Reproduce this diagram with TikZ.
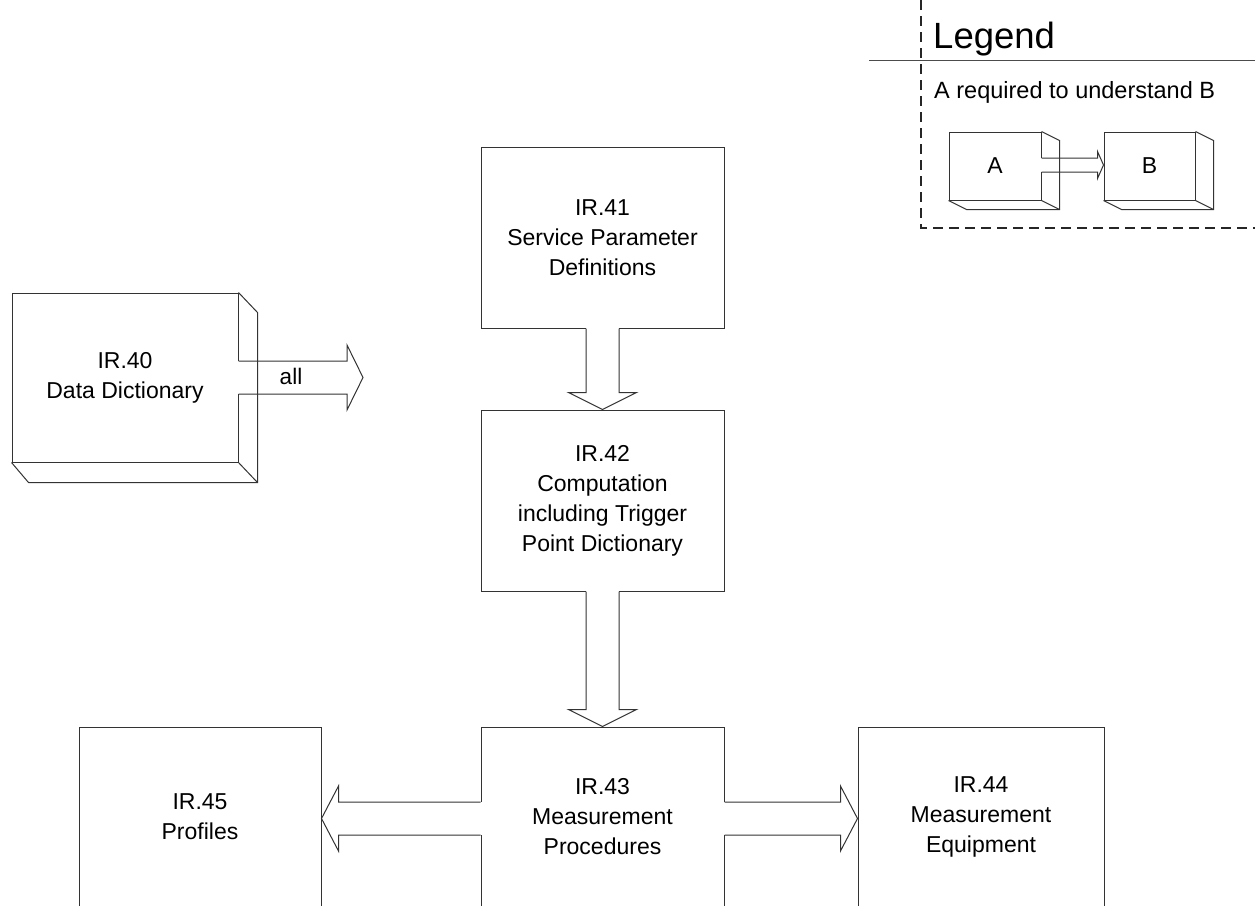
\documentclass[tikz,border=0pt]{standalone}
\usepackage{fontspec}
\setmainfont{Liberation Sans}
\usetikzlibrary{calc}
\begin{document}
\begin{tikzpicture}[x=1pt,y=-1pt,
  ln/.style={draw=black!80, line width=1pt},
  box/.style={ln, rectangle, inner sep=0pt, align=center, font=\fontsize{23}{30}\selectfont},
  lbox/.style={ln, rectangle, inner sep=0pt, align=center, font=\fontsize{23}{27}\selectfont},
  lgline/.style={draw=black!85, line width=1.4pt, dash pattern=on 10pt off 6pt},
  txt/.style={inner sep=0pt, align=center, font=\fontsize{22.5}{30}\selectfont}]
\useasboundingbox (0,0) rectangle (1255,905);
\clip (0,0) rectangle (1255,905);

% ---------- boxes ----------
\node[box, minimum width=226pt, minimum height=169pt] (ir40) at (125,377.5) {IR.40\\Data Dictionary};
\node[box, minimum width=243pt, minimum height=181pt] (ir41) at (602.5,237.5) {IR.41\\Service Parameter\\Definitions};
\node[box, minimum width=243pt, minimum height=181pt] (ir42) at (602.5,500.5) {IR.42\\Computation\\including Trigger\\Point Dictionary};
\node[box, minimum width=243pt, minimum height=180pt] (ir43) at (602.5,817) {IR.43\\Measurement\\Procedures};
\node[box, minimum width=242pt, minimum height=180pt] (ir45) at (200,817) {IR.45\\Profiles};
\node[box, minimum width=246pt, minimum height=180pt] (ir44) at (981,817) {IR.44\\Measurement\\Equipment};

% ---------- IR.40 -> all ----------
\coordinate (s5) at (ir40.east);
\coordinate (t5) at (363,377.5);
\fill[white] ($(s5)+(-1,-16.5)$) rectangle ($(t5)+(-16,16.5)$);
\draw[ln] (ir40.north east) -- ++(19,20) -- ($(ir40.south east)+(19,20)$) -- ($(ir40.south west)+(17,20)$) -- (ir40.south west);
\draw[ln] (ir40.south east) -- ++(19,20);
\draw[ln] ($(s5)+(0,-16.5)$) -- ($(t5)+(-16,-16.5)$) -- ($(t5)+(-16,-32.5)$) -- (t5)
  -- ($(t5)+(-16,32.5)$) -- ($(t5)+(-16,16.5)$) -- ($(s5)+(0,16.5)$);
\node[txt] (all) at (291,376) {all};

% ---------- IR.41 -> IR.42 ----------
\coordinate (s1) at (ir41.south);
\coordinate (t1) at (ir42.north);
\fill[white] ($(s1)+(-16.5,-1)$) rectangle ($(t1)+(16.5,-17)$);
\draw[ln] ($(s1)+(-16.5,0)$) -- ($(t1)+(-16.5,-17)$) -- ($(t1)+(-34,-17)$) -- (t1)
  -- ($(t1)+(34,-17)$) -- ($(t1)+(16.5,-17)$) -- ($(s1)+(16.5,0)$);

% ---------- IR.42 -> IR.43 ----------
\coordinate (s2) at (ir42.south);
\coordinate (t2) at (ir43.north);
\fill[white] ($(s2)+(-16.5,-1)$) rectangle ($(t2)+(16.5,-17)$);
\draw[ln] ($(s2)+(-16.5,0)$) -- ($(t2)+(-16.5,-17)$) -- ($(t2)+(-34,-17)$) -- (t2)
  -- ($(t2)+(34,-17)$) -- ($(t2)+(16.5,-17)$) -- ($(s2)+(16.5,0)$);

% ---------- IR.43 -> IR.45 ----------
\coordinate (s3) at ($(ir43.west)+(0,1.5)$);
\coordinate (t3) at ($(ir45.east)+(0,1.5)$);
\fill[white] ($(s3)+(1,-16.5)$) rectangle ($(t3)+(17,16.5)$);
\draw[ln] ($(s3)+(0,-16.5)$) -- ($(t3)+(17,-16.5)$) -- ($(t3)+(17,-32.5)$) -- (t3)
  -- ($(t3)+(17,32.5)$) -- ($(t3)+(17,16.5)$) -- ($(s3)+(0,16.5)$);

% ---------- IR.43 -> IR.44 ----------
\coordinate (s4) at ($(ir43.east)+(0,1.5)$);
\coordinate (t4) at ($(ir44.west)+(0,1.5)$);
\fill[white] ($(s4)+(-1,-16.5)$) rectangle ($(t4)+(-17,16.5)$);
\draw[ln] ($(s4)+(0,-16.5)$) -- ($(t4)+(-17,-16.5)$) -- ($(t4)+(-17,-32.5)$) -- (t4)
  -- ($(t4)+(-17,32.5)$) -- ($(t4)+(-17,16.5)$) -- ($(s4)+(0,16.5)$);

% ---------- Legend ----------
\coordinate (lgtop) at (921,0);
\coordinate (lgcorner) at (921,228);
\coordinate (lgright) at (1255,228);
\draw[lgline] (lgtop) -- (lgcorner) -- (lgright);
\coordinate (hl1) at (869,60);
\coordinate (hl2) at (1255,60);
\draw[draw=black!70, line width=1pt] (hl1) -- (hl2);
\node[anchor=base west, inner sep=0pt, font=\fontsize{36.5}{40}\selectfont] (legend) at (933,48) {Legend};
\node[anchor=base west, inner sep=0pt, font=\fontsize{23.5}{27}\selectfont] (lgdesc) at (934,98) {A required to understand B};

\node[lbox, minimum width=92pt, minimum height=68pt] (la) at (995,166) {A};
\node[lbox, minimum width=91pt, minimum height=68pt] (lb) at (1149.5,166) {B};
\coordinate (s6) at ($(la.east)+(0,-1)$);
\coordinate (t6) at ($(lb.west)+(0,-1)$);
\fill[white] ($(s6)+(-1,-7)$) rectangle ($(t6)+(-6,7)$);
\foreach \b in {la,lb}{
  \draw[ln] (\b.north east) -- ++(18,9) -- ($(\b.south east)+(18,9)$) -- ($(\b.south west)+(18,9)$) -- (\b.south west);
  \draw[ln] (\b.south east) -- ++(18,9);
}
\draw[ln] ($(s6)+(0,-7)$) -- ($(t6)+(-6,-7)$) -- ($(t6)+(-6,-13.5)$) -- (t6)
  -- ($(t6)+(-6,13.5)$) -- ($(t6)+(-6,7)$) -- ($(s6)+(0,7)$);
\end{tikzpicture}
\end{document}
